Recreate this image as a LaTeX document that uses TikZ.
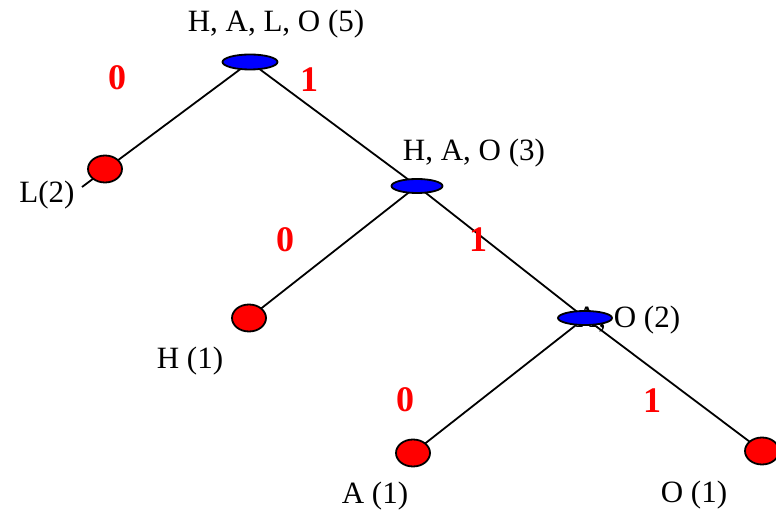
\documentclass[tikz,border=0pt]{standalone}
\usepackage{fontspec}
\setmainfont{Liberation Serif}
\usetikzlibrary{shapes.geometric,backgrounds}
\begin{document}
\begin{tikzpicture}[x=1pt,y=-1pt,
  inode/.style={ellipse,draw=black,fill=blue,line width=1.8pt,minimum width=55pt,minimum height=15pt,inner sep=0pt},
  leaf/.style={ellipse,draw=black,fill=red,line width=1.8pt,minimum width=34pt,minimum height=27pt,inner sep=0pt},
  lbl/.style={font=\fontsize{31}{37}\selectfont,inner sep=0pt,anchor=base},
  bit/.style={font=\fontsize{36}{42}\selectfont\bfseries,text=red,inner sep=0pt},
  edge/.style={draw=black,line width=1.8pt}]
\useasboundingbox (0,0) rectangle (776,510);
% labels
\node[lbl] (tRoot) at (276,32) {H, A, L, O (5)};
\node[lbl] (tL) at (47,203) {L(2)};
\node[lbl] (tHAO) at (474,161) {H, A, O (3)};
\node[lbl] (tAO) at (628,327) {A, O (2)};
\node[lbl] (tH) at (190,368) {H (1)};
\node[lbl] (tA) at (375,503) {A (1)};
\node[lbl] (tO) at (694,502) {O (1)};
% bits
\node[bit] (b1) at (117,78) {0};
\node[bit] (b2) at (309,80) {1};
\node[bit] (b3) at (285,240) {0};
\node[bit] (b4) at (478,240) {1};
\node[bit] (b5) at (405,400) {0};
\node[bit] (b6) at (652,401) {1};
% nodes
\node[inode] (root) at (250,62) {};
\node[inode, minimum width=51pt, minimum height=14pt] (hao) at (417,186) {};
\node[inode, minimum width=54pt, minimum height=14pt] (ao) at (585,318) {};
\node[leaf] (lL) at (105,169) {};
\node[leaf] (lH) at (249,318) {};
\node[leaf] (lA) at (413,453) {};
\node[leaf] (lO) at (762,451) {};
\coordinate (lLend) at (82,187);
% edges
\begin{scope}[on background layer]
\draw[edge] (root.center) -- (lLend);
\draw[edge] (root.center) -- (hao.center);
\draw[edge] (hao.center) -- (lH.center);
\draw[edge] (hao.center) -- (ao.center);
\draw[edge] (ao.center) -- (lA.center);
\draw[edge] (ao.center) -- (lO.center);
\end{scope}
\end{tikzpicture}
\end{document}
